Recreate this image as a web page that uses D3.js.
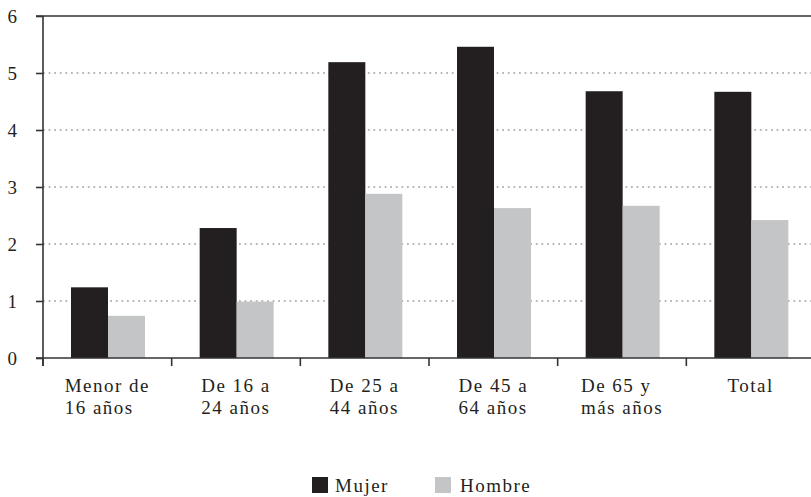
<!DOCTYPE html>
<html><head><meta charset="utf-8">
<script src="https://cdn.jsdelivr.net/npm/d3@7"></script>
<style>
body{margin:0;background:#fff;}
text{font-family:"Liberation Serif","Times New Roman",serif;fill:#231f20;}
</style></head><body>
<svg id="chart" width="811" height="497"></svg>
<script>
const categories = [["Menor de","16 años"],["De 16 a","24 años"],["De 25 a","44 años"],["De 45 a","64 años"],["De 65 y","más años"],["Total"]];
const series = ["Mujer","Hombre"];
const mujer = [1.24, 2.28, 5.19, 5.46, 4.68, 4.67];
const hombre = [0.74, 0.99, 2.88, 2.63, 2.67, 2.42];
const yTicks = [0,1,2,3,4,5,6];
const colors = ["#231f20","#c4c5c7"];

(function(){
const svg = d3.select("#chart");
const mLeft = 43, mRight = 815, mTop = 16, mBottom = 358;
const FS = "19px", LS = "1.5px", FF = "'Liberation Serif','Times New Roman',serif";

const x0 = d3.scaleBand().domain(d3.range(categories.length)).range([mLeft, mRight]).padding(0);
const x1 = d3.scaleBand().domain(series).range([28, 102]).padding(0);
const y = d3.scaleLinear().domain([0, 6]).range([mBottom, mTop]);

// gridlines
svg.append("g").selectAll("line").data(yTicks.filter(d => d > 0 && d < 6)).join("line")
  .attr("x1", mLeft).attr("x2", 811).attr("y1", d => y(d)).attr("y2", d => y(d))
  .attr("stroke", "#a0a0a0").attr("stroke-width", 1.3).attr("stroke-dasharray", "1.8,3.8");

// bars
const data = categories.map((c, i) => [mujer[i], hombre[i]]);
const g = svg.append("g");
data.forEach((vals, i) => {
  g.selectAll(null).data(vals).join("rect")
    .attr("x", (d, j) => x0(i) + x1(series[j]))
    .attr("width", x1.bandwidth())
    .attr("y", d => y(d))
    .attr("height", d => y(0) - y(d))
    .attr("fill", (d, j) => colors[j]);
});

// frame lines
svg.append("line").attr("x1", 36).attr("x2", 811).attr("y1", mTop).attr("y2", mTop)
  .attr("stroke", "#333").attr("stroke-width", 1.6);
svg.append("line").attr("x1", 36).attr("x2", 811).attr("y1", mBottom).attr("y2", mBottom)
  .attr("stroke", "#333").attr("stroke-width", 1.6);
svg.append("line").attr("x1", mLeft).attr("x2", mLeft).attr("y1", mTop).attr("y2", mBottom + 8)
  .attr("stroke", "#333").attr("stroke-width", 1.6);

// y axis
const yAxis = d3.axisLeft(y).tickValues(yTicks).tickSize(7).tickPadding(0).tickFormat(d3.format("d"));
const ya = svg.append("g").attr("transform", `translate(${mLeft},0)`).call(yAxis);
ya.attr("font-family", null).attr("font-size", null);
ya.select(".domain").remove();
ya.selectAll(".tick line").attr("stroke", "#333").attr("stroke-width", 1.6);
ya.selectAll(".tick text").attr("x", -26).attr("dy", "0.34em")
  .style("font-size", FS).style("font-family", FF).attr("fill", "#231f20");

// x ticks at band boundaries
const bounds = d3.range(categories.length).map(i => x0(i)).slice(1);
svg.append("g").selectAll("line").data([mLeft, ...bounds]).join("line")
  .attr("x1", d => d).attr("x2", d => d).attr("y1", mBottom).attr("y2", mBottom + 8)
  .attr("stroke", "#333").attr("stroke-width", 1.6);

// category labels
categories.forEach((lines, i) => {
  const t = svg.append("text").style("font-size", FS).style("font-family", FF).style("letter-spacing", LS);
  lines.forEach((l, k) => t.append("tspan").attr("dy", k === 0 ? 0 : 21.5).text(l));
  let w = 0;
  t.selectAll("tspan").each(function(){ w = Math.max(w, this.getComputedTextLength()); });
  const xs = x0(i) + x0.bandwidth() / 2 - w / 2;
  t.attr("x", xs).attr("y", 392);
  t.selectAll("tspan").attr("x", xs);
});

// legend
const legX = [312, 435];
series.forEach((s, j) => {
  svg.append("rect").attr("x", legX[j]).attr("y", 477).attr("width", 16).attr("height", 16).attr("fill", colors[j]);
  svg.append("text").attr("x", legX[j] + (j === 0 ? 23 : 25)).attr("y", 492)
    .style("font-size", FS).style("font-family", FF).style("letter-spacing", LS).text(s);
});
})();
</script>
</body></html>
